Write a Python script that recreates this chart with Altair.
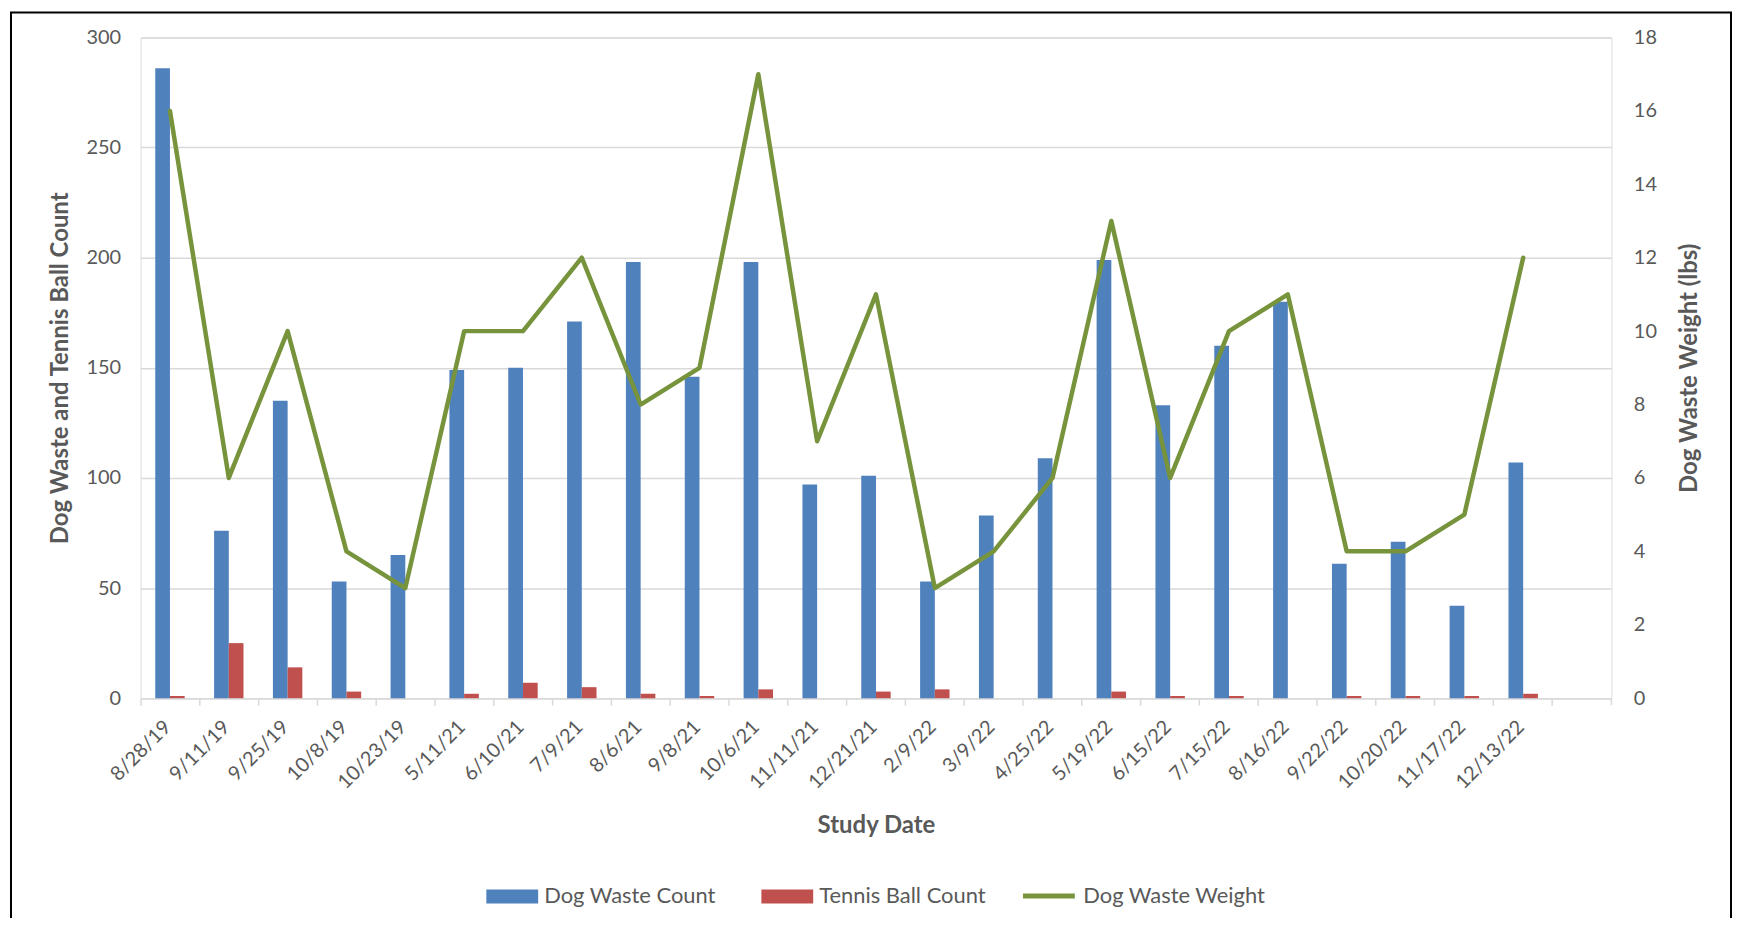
import altair as alt
import pandas as pd

# ---- data ----
dates = ["8/28/19", "9/11/19", "9/25/19", "10/8/19", "10/23/19", "5/11/21", "6/10/21",
         "7/9/21", "8/6/21", "9/8/21", "10/6/21", "11/11/21", "12/21/21", "2/9/22",
         "3/9/22", "4/25/22", "5/19/22", "6/15/22", "7/15/22", "8/16/22", "9/22/22",
         "10/20/22", "11/17/22", "12/13/22"]
dog_waste_count = [286, 76, 135, 53, 65, 149, 150, 171, 198, 146, 198, 97, 101, 53,
                   83, 109, 199, 133, 160, 180, 61, 71, 42, 107]
tennis_ball_count = [1, 25, 14, 3, 0, 2, 7, 5, 2, 1, 4, 0, 3, 4,
                     0, 0, 3, 1, 1, 0, 1, 1, 1, 2]
dog_waste_weight = [16, 6, 10, 4, 3, 10, 10, 12, 8, 9, 17, 7, 11, 3,
                    4, 6, 13, 6, 10, 11, 4, 4, 5, 12]
bar_series = ["Dog Waste Count", "Tennis Ball Count"]
line_series = ["Dog Waste Weight"]
bar_colors = ["#4F81BD", "#C0504D"]
line_colors = ["#77933C"]
left_ticks = [0, 50, 100, 150, 200, 250, 300]
right_ticks = [0, 2, 4, 6, 8, 10, 12, 14, 16, 18]

# ---- layout ----
W, H = 1476, 663
FONT = "Lato"
GREY = "#595959"
GRID = "#D9D9D9"

df = pd.DataFrame({
    "date": dates,
    "Dog Waste Count": dog_waste_count,
    "Tennis Ball Count": tennis_ball_count,
    "weight": dog_waste_weight,
})

x_domain = dates + [" "]
xscale = alt.Scale(domain=x_domain, paddingInner=0, paddingOuter=0)

x_axis = alt.Axis(
    title="Study Date", bandPosition=0, labelOffset=-2, labelAngle=315,
    labelAlign="right", labelBaseline="middle", labelPadding=18.5, labelOverlap=False,
    labelFont=FONT, labelFontSize=20, labelColor=GREY,
    tickColor=GRID, tickWidth=1.5, tickSize=7,
    domainColor=GRID, domainWidth=1.5,
    titleFont=FONT, titleFontSize=24, titleFontWeight="bold", titleColor=GREY,
    titleX=W / 2, titleY=128, titleBaseline="middle", titleAlign="center",
)

left_axis = alt.Axis(
    title="Dog Waste and Tennis Ball Count", values=left_ticks,
    grid=True, gridColor=GRID, gridWidth=1.5, domain=False, ticks=False,
    labelFont=FONT, labelFontSize=20, labelColor=GREY, labelPadding=20,
    titleFont=FONT, titleFontSize=24, titleFontWeight="bold", titleColor=GREY,
    titleX=-80, titleY=H / 2, titleAngle=270, titleBaseline="middle", titleAlign="center",
)

right_axis = alt.Axis(
    orient="right", title="Dog Waste Weight (lbs)", values=right_ticks,
    grid=False, domain=False, ticks=False,
    labelFont=FONT, labelFontSize=20, labelColor=GREY, labelPadding=22,
    titleFont=FONT, titleFontSize=24, titleFontWeight="bold", titleColor=GREY,
    titleX=78, titleY=H / 2, titleAngle=270, titleBaseline="middle", titleAlign="center",
)

bars = alt.Chart(df).transform_fold(
    bar_series, as_=["series", "value"]
).mark_bar().encode(
    x=alt.X("date:N", scale=xscale, sort=None, axis=x_axis),
    xOffset=alt.XOffset("series:N", scale=alt.Scale(domain=bar_series, paddingInner=0, paddingOuter=1)),
    y=alt.Y("value:Q", scale=alt.Scale(domain=[0, 300], nice=False), axis=left_axis),
    color=alt.Color(
        "series:N", scale=alt.Scale(domain=bar_series, range=bar_colors),
        legend=alt.Legend(
            orient="none", legendX=347, legendY=836, direction="horizontal", columns=2,
            title=None, symbolType="M-1,-0.27H1V0.27H-1Z", symbolSize=2704,
            symbolStrokeWidth=0, columnPadding=45, labelOffset=6, padding=0,
            labelFont=FONT, labelFontSize=22, labelColor=GREY, labelLimit=400,
        ),
    ),
)

line = alt.Chart(df).transform_calculate(
    series="'Dog Waste Weight'"
).mark_line(strokeWidth=4.5, strokeCap="round", strokeJoin="round").encode(
    x=alt.X("date:N", scale=xscale, sort=None, axis=x_axis),
    y=alt.Y("weight:Q", scale=alt.Scale(domain=[0, 18], nice=False), axis=right_axis),
    stroke=alt.Stroke(
        "series:N", scale=alt.Scale(domain=line_series, range=line_colors),
        legend=alt.Legend(
            orient="none", legendX=883, legendY=833, direction="horizontal",
            title=None, symbolType="stroke", symbolSize=2704, symbolStrokeWidth=5,
            labelOffset=6, padding=0,
            labelFont=FONT, labelFontSize=22, labelColor=GREY, labelLimit=400,
        ),
    ),
)

one = pd.DataFrame({"k": [0]})
frame = alt.Chart(one).mark_rect(fillOpacity=0, stroke="black", strokeWidth=2).encode(
    x=alt.value(-130), x2=alt.value(1596), y=alt.value(-25), y2=alt.value(1000)
)
end_tick = alt.Chart(one).mark_rule(color=GRID, strokeWidth=1.5).encode(
    x=alt.value(W), y=alt.value(H), y2=alt.value(H + 7)
)

chart = alt.layer(frame, bars, line, end_tick).resolve_scale(
    y="independent"
).properties(
    width=W, height=H,
    autosize=alt.AutoSizeParams(type="none"),
    padding={"left": 133, "top": 28, "right": 122, "bottom": 219},
).configure_view(strokeWidth=0).configure(font=FONT)

chart.save("out.html", embed_options={"renderer": "svg", "actions": False})
